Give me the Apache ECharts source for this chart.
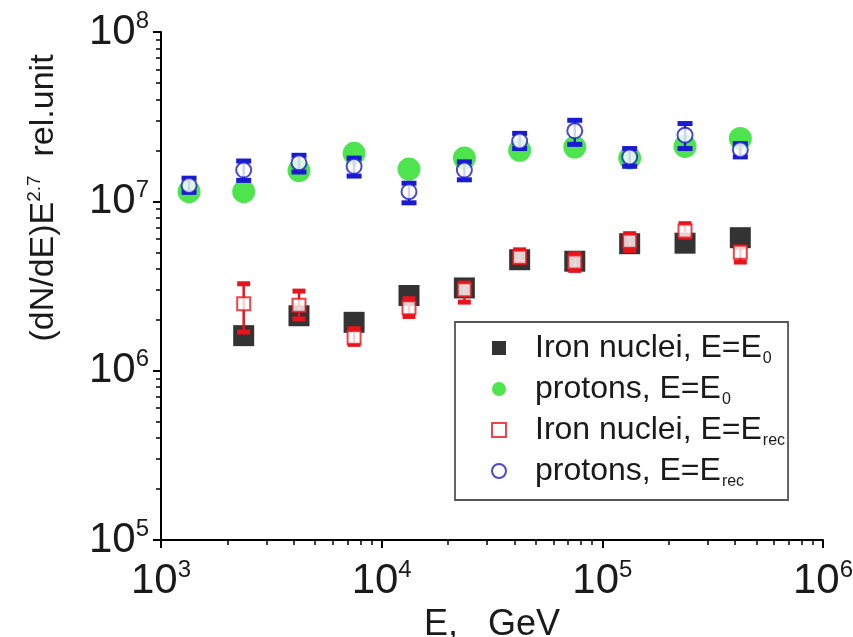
<!DOCTYPE html>
<html>
<head>
<meta charset="utf-8">
<script src="https://cdn.jsdelivr.net/npm/echarts@6/dist/echarts.min.js"></script>
<style>
    html, body { margin: 0; padding: 0; background: #fff; }
    #main { width: 853px; height: 637px; }
</style>
</head>
<body>
<div id="main"></div>
<script>
// energies (GeV)
var energy = [1340, 2370, 4220, 7500, 13300, 23700, 42200, 75000, 133000, 237000, 422000];

// Iron nuclei, E=E0
var ironE0 = [null, 1.61e6, 2.11e6, 1.93e6, 2.78e6, 3.08e6, 4.52e6, 4.43e6, 5.62e6, 5.66e6, 6.10e6];
// protons, E=E0
var protonE0 = [1.14e7, 1.14e7, 1.52e7, 1.92e7, 1.55e7, 1.80e7, 2.00e7, 2.09e7, 1.80e7, 2.11e7, 2.35e7];
// Iron nuclei, E=Erec (value, lower, upper)
var ironRec = [null, 2.48e6, 2.43e6, 1.57e6, 2.35e6, 3.00e6, 4.68e6, 4.38e6, 5.82e6, 6.67e6, 5.01e6];
var ironRecLow = [null, 1.69e6, 2.02e6, 1.43e6, 2.09e6, 2.54e6, 4.38e6, 3.91e6, 5.13e6, 6.15e6, 4.38e6];
var ironRecHigh = [null, 3.26e6, 2.95e6, 1.77e6, 2.66e6, 3.29e6, 5.17e6, 4.91e6, 6.44e6, 7.38e6, 5.37e6];
// protons, E=Erec (value, lower, upper)
var protonRec = [1.24e7, 1.53e7, 1.69e7, 1.61e7, 1.14e7, 1.53e7, 2.27e7, 2.61e7, 1.83e7, 2.46e7, 2.02e7];
var protonRecLow = [1.13e7, 1.33e7, 1.49e7, 1.41e7, 9.8e6, 1.34e7, 2.05e7, 2.17e7, 1.61e7, 2.05e7, 1.83e7];
var protonRecHigh = [1.37e7, 1.73e7, 1.87e7, 1.80e7, 1.28e7, 1.71e7, 2.52e7, 3.01e7, 2.05e7, 2.88e7, 2.19e7];

// axis ticks
var xMajor = [1e3, 1e4, 1e5, 1e6];
var yMajor = [1e5, 1e6, 1e7, 1e8];
var minorSteps = [2, 3, 4, 5, 6, 7, 8, 9];

var font = 'Liberation Sans, Arial, sans-serif';
var textColor = '#1a1a1a';

function minorTicks(major) {
    var out = [];
    for (var i = 0; i < major.length - 1; i++) {
        minorSteps.forEach(function (m) { out.push(major[i] * m); });
    }
    return out;
}

function pairs(ys) {
    var out = [];
    energy.forEach(function (x, i) {
        if (ys[i] != null) out.push([x, ys[i]]);
    });
    return out;
}

function bars(lo, hi) {
    var out = [];
    energy.forEach(function (x, i) {
        if (lo[i] != null) out.push([x, lo[i], hi[i]]);
    });
    return out;
}

function errorBar(color, capW, capH) {
    return function (params, api) {
        var x = api.value(0);
        var top = api.coord([x, api.value(2)]);
        var bot = api.coord([x, api.value(1)]);
        return {
            type: 'group',
            children: [
                { type: 'line', shape: { x1: top[0], y1: top[1], x2: bot[0], y2: bot[1] },
                  style: { stroke: color, lineWidth: 2.5 } },
                { type: 'rect', shape: { x: top[0] - capW / 2, y: top[1] - capH / 2, width: capW, height: capH },
                  style: { fill: color } },
                { type: 'rect', shape: { x: bot[0] - capW / 2, y: bot[1] - capH / 2, width: capW, height: capH },
                  style: { fill: color } }
            ]
        };
    };
}

function powLabel(v) {
    return '{b|10}{s|' + Math.round(Math.log10(v)) + '}';
}

var powRich = {
    b: { fontSize: 42, fontFamily: font, color: textColor },
    s: { fontSize: 24, fontFamily: font, color: textColor, padding: [0, 0, 22, 0] }
};

var legendNames = ['Iron nuclei, E=E0', 'protons, E=E0', 'Iron nuclei, E=Erec', 'protons, E=Erec'];
var legendText = {
    'Iron nuclei, E=E0': '{a|Iron nuclei, E=E}{d|0}',
    'protons, E=E0': '{a|protons, E=E}{d|0}',
    'Iron nuclei, E=Erec': '{a|Iron nuclei, E=E}{d|rec}',
    'protons, E=Erec': '{a|protons, E=E}{d|rec}'
};

var myChart = echarts.init(document.getElementById('main'));
var axisLineStyle = { color: '#000', width: 2 };

var option = {
    backgroundColor: '#fff',
    animation: false,
    grid: { left: 161, right: 30, top: 32, bottom: 97, outerBoundsMode: 'none' },
    xAxis: [
        {
            type: 'log', logBase: 10, min: 1e3, max: 1e6, position: 'bottom',
            axisLine: { lineStyle: axisLineStyle },
            axisTick: { customValues: xMajor, length: 8, lineStyle: { color: '#000', width: 2 } },
            axisLabel: { customValues: xMajor, formatter: powLabel, rich: powRich, margin: 18 },
            splitLine: { show: false },
            name: 'E,   GeV', nameLocation: 'middle', nameGap: 54,
            nameTextStyle: { fontSize: 36, fontFamily: font, color: textColor }
        },
        {
            type: 'log', logBase: 10, min: 1e3, max: 1e6, position: 'bottom',
            axisLine: { show: false },
            axisTick: { customValues: minorTicks(xMajor), length: 5, lineStyle: { color: '#000', width: 1.5 } },
            axisLabel: { show: false },
            splitLine: { show: false }
        }
    ],
    yAxis: [
        {
            type: 'log', logBase: 10, min: 1e5, max: 1e8, position: 'left',
            axisLine: { lineStyle: axisLineStyle },
            axisTick: { customValues: yMajor, length: 8, lineStyle: { color: '#000', width: 2 } },
            axisLabel: { customValues: yMajor, formatter: powLabel, rich: powRich, margin: 12 },
            splitLine: { show: false }
        },
        {
            type: 'log', logBase: 10, min: 1e5, max: 1e8, position: 'left',
            axisLine: { show: false },
            axisTick: { customValues: minorTicks(yMajor), length: 5, lineStyle: { color: '#000', width: 1.5 } },
            axisLabel: { show: false },
            splitLine: { show: false }
        }
    ],
    legend: {
        data: legendNames,
        orient: 'vertical',
        left: 455, top: 322,
        padding: [10, 3, 10, 36],
        itemGap: 6,
        itemWidth: 14, itemHeight: 14,
        borderColor: '#555', borderWidth: 1.8,
        backgroundColor: '#fff',
        selectedMode: false,
        formatter: function (name) { return legendText[name]; },
        textStyle: {
            fontFamily: font, color: textColor,
            rich: {
                a: { fontSize: 32, fontFamily: font, color: textColor, padding: [0, 0, 0, 24] },
                d: { fontSize: 16, fontFamily: font, color: textColor, padding: [22, 0, 0, 1] }
            }
        }
    },
    graphic: [
        {
            type: 'text', x: 44, y: 198, rotation: Math.PI / 2,
            style: {
                text: '{a|(dN/dE)E}{s|2.7}{a|  rel.unit}',
                align: 'center', verticalAlign: 'middle',
                rich: {
                    a: { fontSize: 34, fontFamily: font, fill: textColor },
                    s: { fontSize: 19, fontFamily: font, fill: textColor, padding: [0, 0, 18, 0] }
                }
            }
        }
    ],
    series: [
        {
            name: 'Iron nuclei, E=E0', type: 'scatter', data: pairs(ironE0),
            symbol: 'rect', symbolSize: 21, itemStyle: { color: '#000' }, z: 2
        },
        {
            name: 'protons, E=E0', type: 'scatter', data: pairs(protonE0),
            symbol: 'circle', symbolSize: 23, itemStyle: { color: '#22dd22' }, z: 2
        },
        {
            name: 'ironRecErr', type: 'custom', data: bars(ironRecLow, ironRecHigh),
            encode: { x: 0, y: [1, 2] }, renderItem: errorBar('#e8141c', 13, 5), z: 3
        },
        {
            name: 'Iron nuclei, E=Erec', type: 'scatter', data: pairs(ironRec),
            symbol: 'rect', symbolSize: 13,
            itemStyle: { color: '#fff', borderColor: '#e8141c', borderWidth: 2 }, z: 4
        },
        {
            name: 'protonRecErr', type: 'custom', data: bars(protonRecLow, protonRecHigh),
            encode: { x: 0, y: [1, 2] }, renderItem: errorBar('#1a1ad0', 15, 5), z: 3
        },
        {
            name: 'protons, E=Erec', type: 'scatter', data: pairs(protonRec),
            symbol: 'circle', symbolSize: 15,
            itemStyle: { color: '#fff', borderColor: '#1a1ad0', borderWidth: 2 }, z: 4
        }
    ]
};

myChart.setOption(option);

window.addEventListener('resize', function () {
    myChart.resize();
});
</script>
</body>
</html>
